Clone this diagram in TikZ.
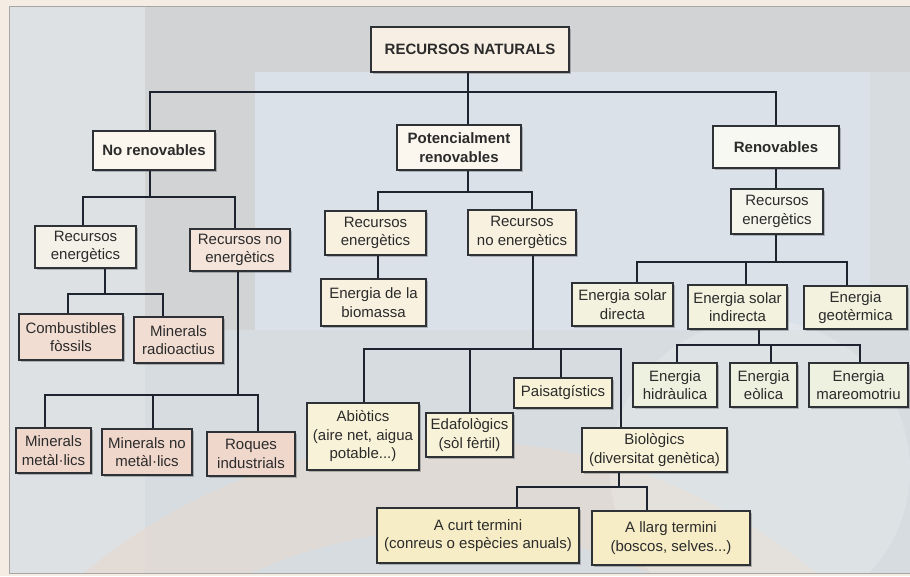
\documentclass[tikz,border=0pt]{standalone}
\usepackage{fontspec}
\setmainfont{Liberation Sans}
\usetikzlibrary{shadows}
\definecolor{outerbg}{HTML}{F5ECE4}
\definecolor{bgmain}{HTML}{D6DCE0}
\definecolor{bggray}{HTML}{D1D3D4}
\definecolor{bgleft}{HTML}{DDE1E3}
\definecolor{bgblue}{HTML}{DAE1E8}
\definecolor{peach}{HTML}{EBD8C8}
\definecolor{boxline}{HTML}{2E3236}
\definecolor{lineC}{HTML}{1D2430}
\definecolor{txt}{HTML}{2B2B2B}
\definecolor{cRN}{HTML}{F7EFE4}
\definecolor{cTop}{HTML}{FBF7EF}
\definecolor{cRV}{HTML}{F8F8F2}
\definecolor{cRE}{HTML}{F4F1E8}
\definecolor{cRNE}{HTML}{F4E4DA}
\definecolor{cPink}{HTML}{F2DDD3}
\definecolor{cPink2}{HTML}{F0D7CC}
\definecolor{cCream}{HTML}{F8F1E0}
\definecolor{cYel}{HTML}{F8F3D8}
\definecolor{cYel2}{HTML}{F6EDC6}
\definecolor{cRE3}{HTML}{F5F5EC}
\definecolor{cSol}{HTML}{F2F2DE}
\definecolor{cGrn}{HTML}{EEF1E0}
\begin{document}
\begin{tikzpicture}[x=1pt,y=-1pt,
  box/.style={draw=boxline, line width=1.3pt, inner sep=1pt, align=center,
    font=\fontsize{15}{18.5}\selectfont, text=txt,
    drop shadow={shadow xshift=1.8pt, shadow yshift=-1.8pt, fill=black, opacity=0.22}},
  bbox/.style={box, font=\fontsize{15}{18.5}\selectfont\bfseries},
  conn/.style={draw=lineC, line width=2.8pt}]
\useasboundingbox (0,0) rectangle (910,576);
% background
\fill[outerbg] (0,0) rectangle (910,576);
\fill[bgmain] (9,6) rectangle (910,573);
\fill[bggray] (145,6) rectangle (910,72);
\fill[bggray] (145,72) rectangle (255,330);
\fill[bgblue] (255,72) rectangle (870,330);
\fill[bgleft] (9,6) rectangle (145,573);
\begin{scope}
  \clip (9,6) rectangle (910,573);
  \fill[peach, opacity=.45, even odd rule] (450,1010) circle (570pt) (450,1010) circle (480pt);
  \fill[white, opacity=.18] (760,470) circle (150pt);
\end{scope}
\draw[gray!70, line width=0.8pt] (910,573) -- (9,573) -- (9,6) -- (910,6);

% nodes
\node[bbox, minimum width=198, minimum height=45, fill=cRN] (rn) at (470,49.5) {RECURSOS NATURALS};
\node[bbox, minimum width=122, minimum height=39, fill=cTop] (nr) at (154,150.5) {No renovables};
\node[bbox, minimum width=124, minimum height=45, fill=cTop] (pr) at (459,147.5) {Potencialment\\renovables};
\node[bbox, minimum width=126, minimum height=42, fill=cRV] (rv) at (776,147) {Renovables};

\node[box, minimum width=101, minimum height=42, fill=cRE] (re1) at (85.5,247) {Recursos\\energètics};
\node[box, minimum width=100, minimum height=42, fill=cRNE] (rne1) at (240,250) {Recursos no\\energètics};
\node[box, minimum width=104, minimum height=46, fill=cPink] (cf) at (71,337) {Combustibles\\fòssils};
\node[box, minimum width=89, minimum height=46, fill=cPink] (mr) at (178.5,340) {Minerals\\radioactius};
\node[box, minimum width=75, minimum height=45, fill=cPink2] (mm) at (53.5,450.5) {Minerals\\metàl·lics};
\node[box, minimum width=90, minimum height=46, fill=cPink2] (mnm) at (147,452) {Minerals no\\metàl·lics};
\node[box, minimum width=88, minimum height=44, fill=cPink2] (ri) at (251,454) {Roques\\industrials};

\node[box, minimum width=101, minimum height=44, fill=cCream] (re2) at (375.5,233) {Recursos\\energètics};
\node[box, minimum width=108, minimum height=45, fill=cCream] (rne2) at (522,232.5) {Recursos\\no energètics};
\node[box, minimum width=105, minimum height=47, fill=cCream] (eb) at (373.5,302.5) {Energia de la\\biomassa};
\node[box, minimum width=112, minimum height=67, fill=cYel] (ab) at (363,436.5) {Abiòtics\\(aire net, aigua\\potable...)};
\node[box, minimum width=87, minimum height=44, fill=cYel] (ed) at (469.5,435) {Edafològics\\(sòl fèrtil)};
\node[box, minimum width=98, minimum height=30, fill=cYel] (pa) at (563,393) {Paisatgístics};
\node[box, minimum width=145, minimum height=44, fill=cYel] (bi) at (654.5,450) {Biològics\\(diversitat genètica)};
\node[box, minimum width=202, minimum height=55, fill=cYel2] (ac) at (478,535.5) {A curt termini\\(conreus o espècies anuals)};
\node[box, minimum width=158, minimum height=54, fill=cYel2] (al) at (671,538) {A llarg termini\\(boscos, selves...)};

\node[box, minimum width=92, minimum height=45, fill=cRE3] (re3) at (777,211.5) {Recursos\\energètics};
\node[box, minimum width=101, minimum height=43, fill=cSol] (esd) at (622.5,304.5) {Energia solar\\directa};
\node[box, minimum width=99, minimum height=44, fill=cSol] (esi) at (737.5,307) {Energia solar\\indirecta};
\node[box, minimum width=103, minimum height=43, fill=cSol] (eg) at (855.5,307.5) {Energia\\geotèrmica};
\node[box, minimum width=84, minimum height=44, fill=cGrn] (eh) at (675,385) {Energia\\hidràulica};
\node[box, minimum width=67, minimum height=44, fill=cGrn] (ee) at (763.5,385) {Energia\\eòlica};
\node[box, minimum width=99, minimum height=44, fill=cGrn] (em) at (858.5,385) {Energia\\mareomotriu};

% junction coordinates
\coordinate (j0) at (468,92);
\coordinate (j1) at (150,197);
\coordinate (j2) at (105,294);
\coordinate (j3) at (238,395);
\coordinate (j4) at (468,192);
\coordinate (j5) at (533,349);
\coordinate (j6) at (619,487);
\coordinate (j7) at (776,262);
\coordinate (j8) at (759,345);

% connectors
\draw[conn] (rn.south -| j0) -- (j0);
\draw[conn] (j0) -| (nr.north -| j1);
\draw[conn] (j0) -- (pr.north -| j0);
\draw[conn] (j0) -| (rv.north);

\draw[conn] (nr.south -| j1) -- (j1);
\draw[conn] (j1) -| (re1.north -| 83,0);
\draw[conn] (j1) -| (rne1.north -| 235,0);

\draw[conn] (re1.south -| j2) -- (j2);
\draw[conn] (j2) -| (cf.north -| 68,0);
\draw[conn] (j2) -| (mr.north -| 163,0);

\draw[conn] (rne1.south -| j3) -- (j3);
\draw[conn] (j3) -| (mm.north -| 45,0);
\draw[conn] (j3) -| (mnm.north -| 153,0);
\draw[conn] (j3) -| (ri.north -| 258,0);

\draw[conn] (pr.south -| j4) -- (j4);
\draw[conn] (j4) -| (re2.north -| 378,0);
\draw[conn] (j4) -| (rne2.north -| 532,0);
\draw[conn] (re2.south -| 378,0) -- (eb.north -| 378,0);

\draw[conn] (rne2.south -| j5) -- (j5);
\draw[conn] (j5) -| (ab.north -| 364,0);
\draw[conn] (j5) -| (ed.north -| 470,0);
\draw[conn] (j5) -| (pa.north -| 561,0);
\draw[conn] (j5) -| (bi.north -| 621,0);

\draw[conn] (bi.south -| j6) -- (j6);
\draw[conn] (j6) -| (ac.north -| 517,0);
\draw[conn] (j6) -| (al.north -| 647,0);

\draw[conn] (rv.south -| j7) -- (re3.north -| j7);
\draw[conn] (re3.south -| j7) -- (j7);
\draw[conn] (j7) -| (esd.north -| 637,0);
\draw[conn] (j7) -| (esi.north -| 746,0);
\draw[conn] (j7) -| (eg.north -| 847,0);

\draw[conn] (esi.south -| j8) -- (j8);
\draw[conn] (j8) -| (eh.north -| 677,0);
\draw[conn] (j8) -| (ee.north -| 771,0);
\draw[conn] (j8) -| (em.north -| 860,0);
\end{tikzpicture}
\end{document}
